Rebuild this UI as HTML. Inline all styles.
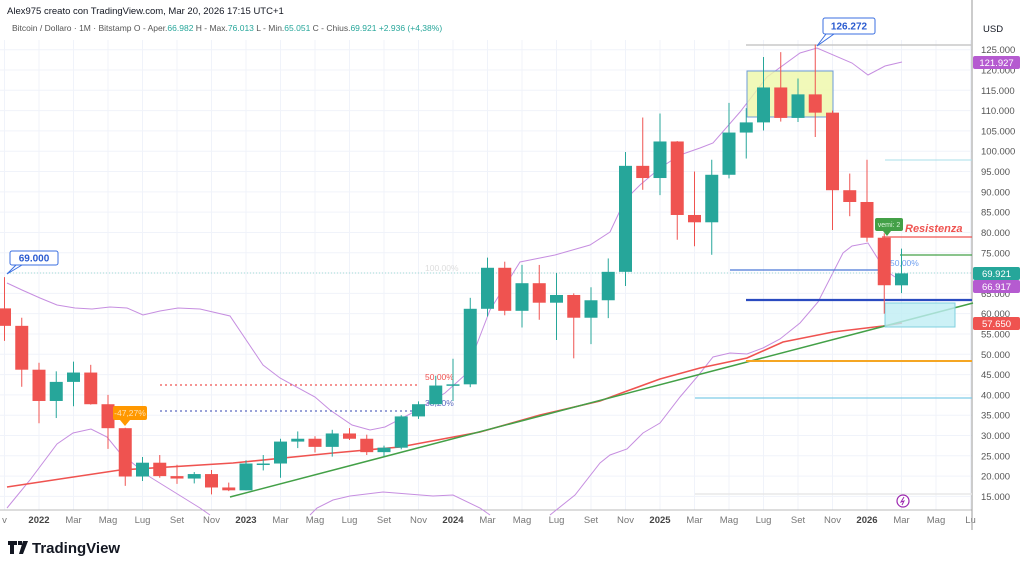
<!DOCTYPE html>
<html><head><meta charset="utf-8"><style>
body{margin:0;background:#fff;width:1024px;height:568px;overflow:hidden;font-family:"Liberation Sans",sans-serif}
svg text{font-family:"Liberation Sans",sans-serif}
</style></head><body>
<svg id="s" width="1024" height="568" xmlns="http://www.w3.org/2000/svg">
<rect width="1024" height="568" fill="#fff"/>
<g id="grid"></g>
<g id="over"></g>
<g id="cand"></g>
<g id="top"></g>
<text x="7" y="14" font-size="9.5" fill="#131722">Alex975 creato con TradingView.com, Mar 20, 2026 17:15 UTC+1</text>
<text x="12" y="31" font-size="8.5" fill="#555">Bitcoin / Dollaro · 1M · Bitstamp  O - Aper.<tspan fill="#26a69a">66.982</tspan>  H - Max.<tspan fill="#26a69a">76.013</tspan>  L - Min.<tspan fill="#26a69a">65.051</tspan>  C - Chius.<tspan fill="#26a69a">69.921</tspan>  <tspan fill="#26a69a">+2.936 (+4,38%)</tspan></text>
<g transform="translate(8,541)"><path d="M0 0h9v4h-3v9h-4v-9h-2z M10 0h4v4h-4z M15 0h5l-5 13h-4z" fill="#131722"/></g>
<text x="32" y="553" font-size="15" font-weight="bold" fill="#131722">TradingView</text>
</svg>
<script>
const S=document.getElementById('s');
const ns='http://www.w3.org/2000/svg';
function el(g,t,a,txt){const e=document.createElementNS(ns,t);for(const k in a)e.setAttribute(k,a[k]);if(txt!==undefined)e.textContent=txt;document.getElementById(g).appendChild(e);return e;}
const Y=p=>49.7+(125000-p)/1000*4.061;
const X=m=>39+m*17.25;
// grid
for(let p=15000;p<=125000;p+=5000){el('grid','line',{x1:0,x2:972,y1:Y(p),y2:Y(p),stroke:'#f0f3fa'});
el('grid','text',{x:981,y:Y(p)+3.5,'font-size':9.5,fill:'#555'},(p/1000).toFixed(0)+'.000');}
const ml=['Gen','Feb','Mar','Apr','Mag','Giu','Lug','Ago','Set','Ott','Nov','Dic'];
for(let m=-2;m<=54;m+=2){const x=X(m);el('grid','line',{x1:x,x2:x,y1:40,y2:510,stroke:'#f0f3fa'});
 const mi=((m%12)+12)%12;let t=mi==0?String(2022+m/12):ml[mi];let b=mi==0;
 if(x<972) el('grid','text',{x:x,y:523,'font-size':9.5,'text-anchor':'middle',fill:b?'#444':'#777','font-weight':b?'bold':'normal'},m==-2?'v':(m==54?'Lu':t));}
el('grid','line',{x1:0,x2:972,y1:510,y2:510,stroke:'#bbb'});
el('grid','line',{x1:972,x2:972,y1:0,y2:530,stroke:'#999'});
el('grid','text',{x:983,y:32,'font-size':9.5,fill:'#131722'},'USD');
// overlays
function pl(pts,c,w,d){el('over','polyline',{points:pts.map(p=>p.join(',')).join(' '),fill:'none',stroke:c,'stroke-width':w||1,'stroke-dasharray':d||''});}
pl([[7,283],[22,290],[40,298],[57,305],[75,308],[92,309],[110,307],[127,308],[143,315],[160,311],[178,308],[200,309],[230,316],[263,365],[280,378],[315,397],[330,410],[352,425],[370,430],[385,427],[412,413],[445,393],[465,375],[490,310],[520,262],[555,255],[590,245],[610,232],[625,200],[640,185],[660,168],[680,155],[700,148],[713,143],[740,112],[767,77],[800,53],[817,48],[852,63],[868,75],[885,66],[902,62]],'#c68ee0',1);
pl([[7,508],[30,480],[57,444],[73,433],[91,429],[107,437],[120,453],[150,477],[200,508],[210,515]],'#c68ee0',1);
pl([[310,515],[317,508],[333,500],[350,496],[383,492],[433,496],[453,495],[480,508],[490,515]],'#c68ee0',1);
pl([[550,515],[575,495],[600,463],[610,455],[627,449],[643,433],[660,423],[680,397],[697,377],[713,357],[730,353],[747,354],[763,348],[780,339],[800,323],[818,302],[843,253],[852,246],[868,243],[885,270],[895,277]],'#c68ee0',1);
pl([[7,487],[60,479],[120,470],[233,463],[333,453],[400,447],[480,432],[540,415],[600,401],[627,391],[660,379],[700,368],[747,358],[783,342],[833,332],[883,326],[902,323]],'#ef5350',1.6);
pl([[230,497],[973,303]],'#43a047',1.5);
function hl(y,x1,x2,c,w,d){el('over','line',{x1:x1,x2:x2,y1:y,y2:y,stroke:c,'stroke-width':w||1,'stroke-dasharray':d||''});}
hl(273,7,972,'#9fd8d4',1,'1,2');
hl(385,160,420,'#ef5350',1.2,'2,3');
hl(411,160,420,'#5c6bc0',1.2,'2,3');
hl(45,746,972,'#c8c8c8',1.5);
el('over','rect',{x:747,y:71,width:86,height:46,fill:'#eef8a8','fill-opacity':0.8,stroke:'#6d9bd8'});
hl(160,885,972,'#a8dfe8',1);
hl(237,882,972,'#ef5350',1.2);
hl(255,900,972,'#43a047',1.2);
hl(270,730,880,'#4a78d8',1.2);
hl(300,746,972,'#2a4bc0',2.2);
el('over','rect',{x:885,y:303,width:70,height:24,fill:'#bfeef4','fill-opacity':0.8,stroke:'#7fd0df'});
hl(361,746,972,'#f5a623',2);
hl(398,695,972,'#7fcce8',1.2);
hl(494,695,972,'#e8e8e8',1.5);
el('over','text',{x:425,y:271,'font-size':8.5,fill:'#ddd'},'100,00%');
el('over','text',{x:425,y:380,'font-size':8.5,fill:'#ef5350'},'50,00%');
el('over','text',{x:425,y:406,'font-size':8.5,fill:'#5c6bc0'},'38,20%');
el('over','text',{x:890,y:266,'font-size':8.5,fill:'#6fa0f0'},'50,00%');
// candles
const D=[[-2,61300,69000,53300,57000],[-1,57000,59000,42000,46200],[0,46200,47900,33000,38500],[1,38500,45800,34300,43200],[2,43200,48200,37200,45500],[3,45500,47400,37600,37700],[4,37700,40000,26700,31800],[5,31800,31900,17600,19900],[6,19900,24700,18800,23300],[7,23300,25200,19600,20000],[8,20000,22800,18100,19400],[9,19400,21000,18200,20500],[10,20500,21500,15500,17200],[11,17200,18400,16300,16500],[12,16500,23900,16500,23100],[13,23100,25200,21400,23100],[14,23100,29200,19600,28500],[15,28500,31000,26900,29200],[16,29200,29800,25800,27200],[17,27200,31400,24800,30500],[18,30500,31800,28900,29200],[19,29200,30200,25200,25900],[20,25900,27500,24900,27000],[21,27000,35000,26600,34700],[22,34700,38400,34100,37700],[23,37700,44700,37600,42300],[24,42300,48900,38500,42600],[25,42600,63900,41900,61200],[26,61200,73800,59300,71300],[27,71300,72800,59600,60700],[28,60700,72000,56600,67500],[29,67500,72000,58500,62700],[30,62700,70000,53500,64600],[31,64600,65000,49000,59000],[32,59000,66500,52500,63300],[33,63300,73600,58900,70300],[34,70300,99800,66800,96400],[35,96400,108300,90500,93400],[36,93400,109300,89200,102400],[37,102400,102500,78200,84300],[38,84300,95000,76600,82500],[39,82500,97900,74500,94200],[40,94200,111900,93300,104600],[41,104600,110600,98200,107100],[42,107100,123200,105100,115700],[43,115700,124400,107300,108200],[44,108200,117900,107200,114000],[45,114000,126272,103500,109500],[46,109500,110000,80600,90400],[47,90400,94500,84000,87500],[48,87500,97900,77700,78700],[49,78700,79800,60000,67000],[50,66982,76013,65051,69921]];
for(const [m,o,h,l,c] of D){const x=X(m);const col=c>=o?'#26a69a':'#ef5350';
 el('cand','line',{x1:x,x2:x,y1:Y(h),y2:Y(l),stroke:col,'stroke-width':1});
 let y1=Math.min(Y(o),Y(c)),hh=Math.max(1.5,Math.abs(Y(o)-Y(c)));
 let x0=x-6.5,w=13;if(x0<0){w+=x0;x0=0;}
 el('cand','rect',{x:x0,y:y1,width:w,height:hh,fill:col});}
// labels
function box(x,y,w,h,fill,stroke,txt,tc,fs,fw){el('top','rect',{x:x,y:y,width:w,height:h,rx:2,fill:fill,stroke:stroke||'none'});el('top','text',{x:x+w/2,y:y+h/2+fs*0.36,'font-size':fs,'text-anchor':'middle',fill:tc,'font-weight':fw||'normal'},txt);}
el('top','path',{d:'M16 265 L7 274 L22 265',fill:'#fff',stroke:'#3b6fe0'});
box(10,251,48,14,'#fff','#3b6fe0','69.000','#2a5bd0',10,'bold');
el('top','path',{d:'M826 34 L817 46 L834 34',fill:'#fff',stroke:'#3b6fe0'});
box(823,18,52,16,'#fff','#3b6fe0','126.272','#2a5bd0',10,'bold');
el('top','path',{d:'M120 420 L125 426 L130 420z',fill:'#ff9800'});
box(113,406,34,14,'#ff9800','','-47,27%','#ffe0b2',8.5);
el('top','path',{d:'M883 231 L887 236 L891 231z',fill:'#43a047'});
box(875,218,28,13,'#43a047','','vemi: 2','#d9f3d9',7);
el('top','text',{x:905,y:232,'font-size':11,'font-style':'italic','font-weight':'bold',fill:'#ef5350'},'Resistenza');
box(973,56,47,13,'#b55bd0','','121.927','#fff',9.5);
box(973,267,47,13,'#26a69a','','69.921','#fff',9.5);
box(973,280,47,13,'#b55bd0','','66.917','#fff',9.5);
box(973,317,47,13,'#ef5350','','57.650','#fff',9.5);
el('top','circle',{cx:903,cy:501,r:6,fill:'#fff',stroke:'#9c27b0','stroke-width':1.2});
el('top','path',{d:'M904 497 L901 502 L904 501 L902 505',fill:'none',stroke:'#9c27b0','stroke-width':1});
</script>
</body></html>
